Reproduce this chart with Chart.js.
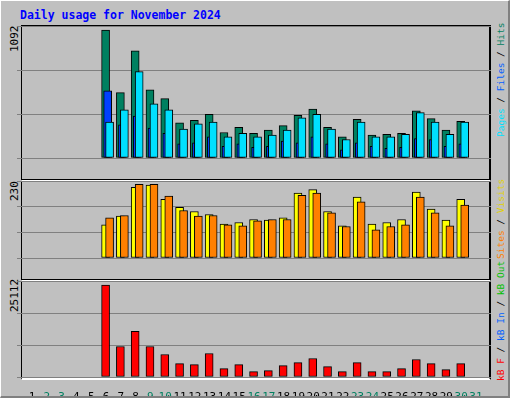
<!DOCTYPE html>
<html><head><meta charset="utf-8">
<script src="https://cdn.jsdelivr.net/npm/chart.js@4"></script>
<style>
body{margin:0;background:#fff;}
#frame{position:absolute;left:0;top:0;width:510px;height:398px;background:#c0c0c0;border-top:1px solid #fff;border-left:1px solid #fff;border-right:2px solid #808080;border-bottom:2px solid #808080;box-sizing:border-box;overflow:hidden;font-family:"DejaVu Sans Mono",monospace;}
.panel{position:absolute;left:20px;width:470px;border:1px solid #000;border-right:2px solid #000;box-sizing:border-box;}
.cv{position:absolute;}
.t{position:absolute;font-size:11px;white-space:nowrap;transform-origin:0 0;transform:rotate(-90deg);}
.r{font-size:9.5px;}
</style></head><body>
<div id="frame">
<div style="position:absolute;left:19px;top:7px;color:#0000ff;font-weight:bold;font-size:11.5px;">Daily usage for November 2024</div>
<div class="panel" style="top:24px;height:155px;border-top:2px solid #000"></div>
<div class="panel" style="top:179px;height:100px;border-top:2px solid #fff"></div>
<div class="panel" style="top:279px;height:100px;border-top:2px solid #fff;border-bottom:2px solid #fff"></div>
<div class="t" style="left:7px;top:51px;">1092</div>
<div class="t" style="left:7px;top:200px;">230</div>
<div class="t" style="left:7px;top:311px;">25112</div>
<div class="t r" style="left:494px;top:136px;"><span style="color:#00e0ff">Pages</span> / <span style="color:#0060ff">Files</span> / <span style="color:#008060">Hits</span></div>
<div class="t r" style="left:494px;top:258px;"><span style="color:#ff8000">Sites</span> / <span style="color:#e0d000">Visits</span></div>
<div class="t r" style="left:494px;top:380px;"><span style="color:#ff0000">kB F</span> / <span style="color:#0060ff">kB In</span> / <span style="color:#00c000">kB Out</span></div>
<canvas id="c1" class="cv" style="left:16px;top:25px;"></canvas>
<canvas id="c2" class="cv" style="left:16px;top:180px;"></canvas>
<canvas id="c3" class="cv" style="left:16px;top:280px;"></canvas>
</div>
<script>
const days=[6,7,8,9,10,11,12,13,14,15,16,17,18,19,20,21,22,23,24,25,26,27,28,29,30];
const dayLabels=[1,2,3,4,5,6,7,8,9,10,11,12,13,14,15,16,17,18,19,20,21,22,23,24,25,26,27,28,29,30,31];
const hits=[1059,541,886,563,491,290,311,362,211,254,204,232,268,354,405,254,175,319,189,196,204,390,326,232,304];
const files=[556,275,347,247,204,117,125,175,96,117,89,96,139,125,175,117,67,125,96,81,89,160,153,96,117];
const pages=[297,398,714,448,398,240,283,297,175,204,175,189,232,333,362,240,153,297,175,175,196,376,297,196,297];
const visits=[99,125,211,218,175,151,139,130,101,106,115,113,120,194,204,139,96,182,101,106,115,197,146,113,175];
const sites=[120,127,220,220,185,142,125,127,99,96,111,115,115,187,194,135,94,168,84,94,99,182,135,96,158];
const kbytes=[24057,7990,11941,7990,5883,3512,3249,6146,2195,3249,1405,1668,2985,3775,4829,2722,1405,3775,1405,1405,2195,4566,3512,1932,3512];
const maxTop=1092,maxMid=230,maxBot=25112;
const weekend=[2,3,9,10,16,17,23,24,30,31];
const pts=(arr,off)=>arr.map((v,i)=>({x:days[i]+off,y:v}));
const ds=(label,arr,off,color,order)=>({label,data:pts(arr,off),backgroundColor:color,borderColor:'#000',borderWidth:1,borderSkipped:false,barThickness:8,order,grouped:false});
function mk(id,datasets,max,showX){
  new Chart(document.getElementById(id),{type:'bar',data:{datasets},
    options:{responsive:false,animation:false,devicePixelRatio:1,
      layout:{padding:0},
      plugins:{legend:{display:false},tooltip:{enabled:false}},
      scales:{
        x:{type:'linear',min:0.5,max:31.5,display:showX,grid:{display:false},border:{display:false},
           afterBuildTicks:s=>{s.ticks=dayLabels.map(v=>({value:v}));},
           afterFit:s=>{s.height=20;},
           ticks:{autoSkip:false,maxRotation:0,padding:6,font:{family:'DejaVu Sans Mono',size:11},
             color:c=>weekend.includes(c.tick&&c.tick.value)?'#008060':'#000',callback:v=>String(v)}},
        y:{min:0,max:max,ticks:{display:false,stepSize:max/3},grid:{color:'#808080',drawTicks:false,lineWidth:1},border:{display:false},afterFit:s=>{s.width=0;}}
      }}});
}
for(const [id,w,h] of [['c1',474,152],['c2',474,97],['c3',474,116]]){const c=document.getElementById(id);c.width=w;c.height=h;c.style.width=w+'px';c.style.height=h+'px';}
mk('c1',[ds('Hits',hits,-0.03,'#008060',3),ds('Files',files,0.11,'#0040ff',2),ds('Pages',pages,0.24,'#00e0ff',1)],maxTop,false);
mk('c2',[ds('Visits',visits,-0.03,'#ffff00',2),ds('Sites',sites,0.24,'#ff8000',1)],maxMid,false);
mk('c3',[ds('kB F',kbytes,-0.03,'#ff0000',1)],maxBot,true);
</script>
</body></html>
